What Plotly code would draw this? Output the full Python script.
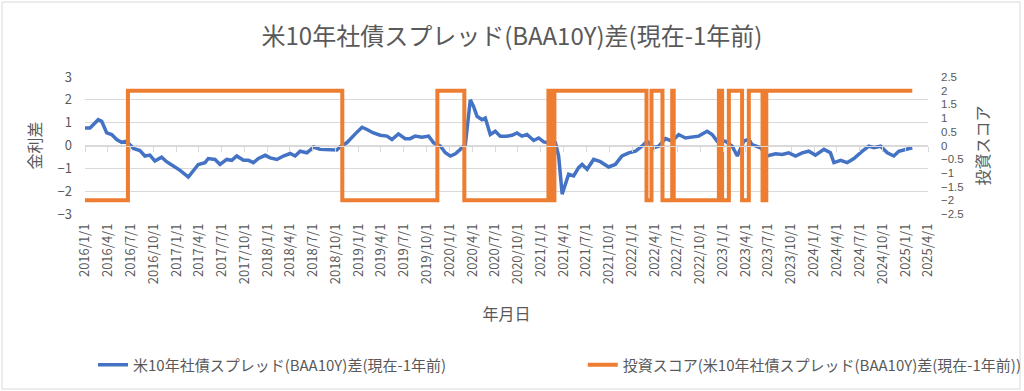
import plotly.graph_objects as go

# ---- data ----
spread_dates = [
    "2016-01-01","2016-01-21","2016-02-23","2016-03-08","2016-03-28","2016-04-17","2016-05-07","2016-05-27",
    "2016-06-16","2016-07-13","2016-08-08","2016-08-28","2016-09-17","2016-10-07","2016-11-03","2016-11-23",
    "2016-12-20","2017-01-16","2017-02-18","2017-03-10","2017-03-30","2017-04-26","2017-05-09","2017-06-05",
    "2017-06-25","2017-07-22","2017-08-11","2017-08-31","2017-09-27","2017-10-17","2017-11-06","2017-11-26",
    "2017-12-23","2018-01-12","2018-02-08","2018-03-06","2018-04-02","2018-04-22","2018-05-12","2018-06-08",
    "2018-07-05","2018-07-31","2018-09-03","2018-10-06","2018-10-26","2018-11-15","2018-12-19","2019-01-15",
    "2019-02-04","2019-03-02","2019-03-29","2019-04-25","2019-05-15","2019-06-10","2019-07-07","2019-07-27",
    "2019-08-16","2019-09-12","2019-10-09","2019-10-29","2019-11-25","2019-12-15","2020-01-04","2020-01-24",
    "2020-02-13","2020-03-04","2020-03-24","2020-04-06","2020-04-20","2020-05-10","2020-05-23","2020-06-12",
    "2020-07-02","2020-07-22","2020-08-18","2020-09-07","2020-09-27","2020-10-17","2020-11-06","2020-12-03",
    "2020-12-23","2021-01-12","2021-02-01","2021-02-28","2021-03-13","2021-03-27","2021-04-09","2021-04-22",
    "2021-05-12","2021-06-01","2021-06-15","2021-07-05","2021-07-31","2021-08-27","2021-09-29","2021-10-26",
    "2021-11-22","2021-12-19","2022-01-15","2022-02-10","2022-03-02","2022-03-29","2022-04-18","2022-05-15",
    "2022-06-11","2022-07-07","2022-08-03","2022-08-30","2022-09-25","2022-10-29","2022-11-18","2022-12-08",
    "2023-01-10","2023-02-06","2023-02-27","2023-03-25","2023-04-14","2023-04-27","2023-05-31","2023-06-26",
    "2023-07-30","2023-08-26","2023-09-21","2023-10-18","2023-11-14","2023-12-10","2024-01-06","2024-02-09",
    "2024-03-06","2024-03-20","2024-04-16","2024-05-12","2024-06-08","2024-07-12","2024-08-07","2024-08-27",
    "2024-09-23","2024-10-20","2024-11-15","2024-12-05","2025-01-01","2025-01-28",
]
spread_values = [
    0.77, 0.77, 1.13, 1.06, 0.55, 0.48, 0.26, 0.14,
    0.19, -0.13, -0.22, -0.46, -0.42, -0.68, -0.51, -0.71,
    -0.90, -1.09, -1.38, -1.12, -0.83, -0.75, -0.57, -0.61,
    -0.83, -0.61, -0.65, -0.46, -0.65, -0.65, -0.75, -0.57,
    -0.43, -0.54, -0.61, -0.46, -0.35, -0.46, -0.25, -0.32,
    -0.07, -0.17, -0.20, -0.20, 0.00, 0.12, 0.51, 0.80,
    0.70, 0.55, 0.45, 0.41, 0.26, 0.51, 0.30, 0.30,
    0.41, 0.36, 0.41, 0.12, -0.03, -0.32, -0.46, -0.36,
    -0.17, 0.04, 2.00, 1.71, 1.28, 1.13, 1.20, 0.48,
    0.62, 0.41, 0.41, 0.45, 0.55, 0.41, 0.48, 0.22,
    0.33, 0.16, 0.12, 0.12, -0.46, -2.13, -1.70, -1.26,
    -1.33, -0.97, -0.83, -1.04, -0.61, -0.71, -0.94, -0.83,
    -0.46, -0.32, -0.25, -0.03, 0.19, -0.10, -0.03, 0.30,
    0.19, 0.48, 0.33, 0.36, 0.41, 0.62, 0.48, 0.19,
    0.19, -0.03, -0.46, 0.19, 0.28, 0.04, -0.10, -0.46,
    -0.36, -0.39, -0.32, -0.46, -0.32, -0.25, -0.42, -0.17,
    -0.32, -0.75, -0.65, -0.75, -0.57, -0.25, -0.03, -0.10,
    -0.03, -0.32, -0.46, -0.25, -0.17, -0.10,
]

score_dates = [
    "2016-01-01","2016-06-21","2018-10-28","2019-11-13","2020-02-29","2021-01-31","2021-02-12","2021-02-24",
    "2022-02-28","2022-03-20","2022-05-03","2022-06-11","2022-06-17","2022-12-15","2022-12-28","2023-01-24",
    "2023-03-18","2023-04-14","2023-06-08","2023-06-23","2025-01-28",
]
score_values = [
    -2, 2, -2, 2, -2, 2, -2, 2,
    -2, 2, -2, 2, -2, 2, -2, 2,
    -2, 2, -2, 2, 2,
]

title_text = "米10年社債スプレッド(BAA10Y)差(現在-1年前)"
name_spread = "米10年社債スプレッド(BAA10Y)差(現在-1年前)"
name_score = "投資スコア(米10年社債スプレッド(BAA10Y)差(現在-1年前))"
x_title = "年月日"
y_title = "金利差"
y2_title = "投資スコア"

FONT = "Noto Sans CJK JP"
GREY = "#595959"
GRID = "#D9D9D9"

fig = go.Figure()
fig.add_trace(go.Scatter(
    x=spread_dates, y=spread_values, name=name_spread, mode="lines",
    line=dict(color="#4472C4", width=3.5), xaxis="x", yaxis="y", legend="legend",
))
fig.add_trace(go.Scatter(
    x=score_dates, y=score_values, name=name_score, mode="lines",
    line=dict(color="#ED7D31", width=4, shape="hv"), xaxis="x2", yaxis="y2", legend="legend2",
))

xr = ["2016-01-01", "2025-04-01"]
legend_common = dict(orientation="h", xanchor="left", y=-1.102, yanchor="middle",
                     font=dict(size=15, color=GREY, family=FONT), bgcolor="rgba(0,0,0,0)")
fig.update_layout(
    width=1024, height=391,
    margin=dict(l=85, r=96, t=77, b=177, autoexpand=False),
    paper_bgcolor="white", plot_bgcolor="white",
    font=dict(family=FONT, color=GREY, size=13),
    title=dict(text=title_text, x=0.5, xref="container", y=1 - 37 / 391, yref="container",
               xanchor="center", yanchor="middle", font=dict(size=24, color=GREY, family=FONT)),
    xaxis=dict(
        type="date", range=xr, dtick="M3", tick0="2016-01-01", tickformat="%Y/%-m/%-d",
        tickangle=-90, showgrid=False, showline=False, ticks="", zeroline=False,
        tickfont=dict(size=13, color=GREY), ticklabelstandoff=6,
        title=dict(text=x_title, font=dict(size=16, color=GREY), standoff=25),
    ),
    xaxis2=dict(
        type="date", matches="x", overlaying="x", anchor="free", position=0.5,
        side="bottom", showticklabels=False, showgrid=False, showline=True,
        linecolor=GRID, linewidth=1, ticks="outside", ticklen=5, tickcolor=GRID,
        dtick="M3", tick0="2016-01-01", zeroline=False,
    ),
    yaxis=dict(
        range=[-3, 3], dtick=1, showgrid=True, gridcolor=GRID, gridwidth=1,
        zeroline=False, showline=False, ticks="", ticklabelstandoff=12,
        tickfont=dict(size=13, color=GREY),
        title=dict(text=y_title, font=dict(size=16, color=GREY), standoff=11),
    ),
    yaxis2=dict(
        range=[-2.5, 2.5], dtick=0.5, overlaying="y", side="right", anchor="x2",
        showgrid=False, zeroline=False, showline=False, ticks="", ticklabelstandoff=12,
        tickfont=dict(size=11.5, color=GREY, family="Liberation Sans"),
        title=dict(text=y2_title, font=dict(size=16, color=GREY), standoff=15),
    ),
    legend=dict(x=0.0095, **legend_common),
    legend2=dict(x=0.5905, **legend_common),
    showlegend=True,
    shapes=[dict(type="rect", xref="paper", yref="paper",
                 x0=(2 - 85) / 843, x1=(1020 - 85) / 843,
                 y0=(214 - 389) / 137, y1=(214 - 2) / 137,
                 line=dict(color=GRID, width=1), fillcolor="rgba(0,0,0,0)", layer="below")],
)

fig.write_html("out.html", config={"displayModeBar": False},
               post_script="document.body.style.margin='0';")
